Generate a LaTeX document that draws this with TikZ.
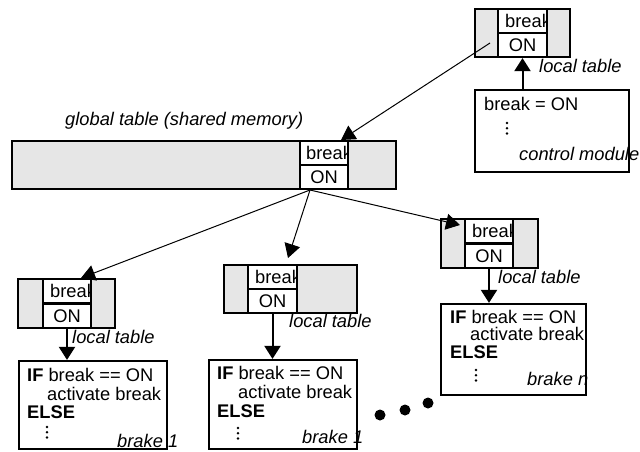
\documentclass[tikz,border=0pt]{standalone}
\usepackage{fontspec}
\setmainfont{Liberation Sans}
\usetikzlibrary{arrows.meta,fit}
\definecolor{shade}{RGB}{230,230,230}

% A table of shared variables: grey frame with a white key/value column.
% #1 name, #2/#3 left/right, #4/#5 column left/right, #6/#7 top/bottom, #8 x of the key text
\newcommand{\memtable}[8]{%
  \pgfmathsetmacro{\mtmid}{(#6+#7)/2}%
  \pgfmathsetmacro{\mtkeybase}{\mtmid-6}%
  \pgfmathsetmacro{\mtvalbase}{#7-5.5}%
  \pgfmathsetmacro{\mtcolmid}{(#4+#5)/2}%
  \pgfmathsetmacro{\mtclip}{#5-1.1}%
  \node[outerbox, fit={(#2,#6) (#3,#7)}] (#1) {};
  \node[cellbox, fit={(#4,#6) (#5,\mtmid)}] (#1-key) {};
  \node[cellbox, fit={(#4,\mtmid) (#5,#7)}] (#1-val) {};
  \begin{scope}
    \clip (#4,#6) rectangle (\mtclip,\mtmid);
    \node[txt] (#1-keytxt) at (#8,\mtkeybase) {break};
  \end{scope}
  \node[txt, anchor=base] (#1-valtxt) at (\mtcolmid,\mtvalbase) {ON};
}
% Vertical ellipsis drawn as three small dots
\newcommand{\vdotsat}[2]{%
  \foreach \k in {0,1,2} {\fill (#1,#2+5.2*\k) circle (1.4);}
}

\begin{document}
\begin{tikzpicture}[x=1pt,y=-1pt,
  outerbox/.style={draw, line width=2.2pt, inner sep=0pt, fill=shade},
  cellbox/.style={draw, line width=2.2pt, inner sep=0pt, fill=white},
  codebox/.style={draw, line width=2.2pt, inner sep=0pt, fill=white},
  txt/.style={inner sep=0pt, anchor=base west, font=\fontsize{18.3}{20}\selectfont},
  lbl/.style={inner sep=0pt, anchor=base west, font=\fontsize{18.3}{20}\selectfont\itshape},
  link/.style={line width=1pt, -{Triangle[length=14pt,width=16pt]}},
  feed/.style={line width=2pt, -{Triangle[length=13pt,width=16pt]}},
]
\useasboundingbox (0,0) rectangle (640,451);

% control module with its local table
\memtable{top}{475}{570}{498}{547}{9}{57}{505}
\node[lbl] (toplbl) at (539,72) {local table};
\node[codebox, fit={(475,90) (629,172)}] (ctl) {};
\node[txt] (ctl1) at (484,110) {break = ON};
\vdotsat{507}{123}
\node[lbl] (ctl2) at (519,160) {control module};
\draw[feed] (top-val.south |- ctl.north) -- (top-val.south);

% global table
\node[lbl] (glbl) at (65,125) {global table (shared memory)};
\memtable{glob}{12}{396}{300}{348}{141}{189}{306}

% local tables of the brakes
\memtable{lt}{18}{115}{43}{91}{279}{328}{50}
\node[lbl] (ltlbl) at (72,343) {local table};
\memtable{mt}{224}{357}{248}{297}{265}{313}{255}
\node[lbl] (mtlbl) at (289,327) {local table};
\memtable{rt}{441}{538}{465}{513}{219}{268}{472}
\node[lbl] (rtlbl) at (498,283) {local table};

% brake 1 (left)
\node[codebox, fit={(19,361) (167,449)}] (lb) {};
\node[txt] (lb1) at (27,381) {\textbf{IF} break == ON};
\node[txt] (lb2) at (47,400) {activate break};
\node[txt] (lb3) at (27,418) {\textbf{ELSE}};
\vdotsat{47}{427}
\node[lbl] (lb4) at (117,447) {brake 1};
\draw[feed] (lt-val.south) -- (lt-val.south |- lb.north);

% brake 1 (middle)
\node[codebox, fit={(209,360) (357,449)}] (mb) {};
\node[txt] (mb1) at (217,379) {\textbf{IF} break == ON};
\node[txt] (mb2) at (238,398) {activate break};
\node[txt] (mb3) at (217,417) {\textbf{ELSE}};
\vdotsat{238}{428}
\node[lbl] (mb4) at (302,443) {brake 1};
\draw[feed] (mt-val.south) -- (mt-val.south |- mb.north);

% brake n (right)
\node[codebox, fit={(441,304) (586,395)}] (rb) {};
\node[txt] (rb1) at (450,323) {\textbf{IF} break == ON};
\node[txt] (rb2) at (470,340) {activate break};
\node[txt] (rb3) at (450,358) {\textbf{ELSE}};
\vdotsat{476}{370}
\node[lbl] (rb4) at (527,385) {brake n};
\draw[feed] (rt-val.south) -- (rt-val.south |- rb.north);

% further brakes
\fill (380,415) circle (5.5);
\fill (405,410) circle (5.5);
\fill (428,403) circle (5.5);

% data flow between the tables
\coordinate (topsrc) at (490,43);
\coordinate (gtip) at (341,140);
\coordinate (gsrc) at (310,190);
\coordinate (ltip) at (81,278);
\coordinate (mtip) at (288,258);
\coordinate (rtip) at (460,225);
\draw[link] (topsrc) -- (gtip);
\draw[link] (gsrc) -- (ltip);
\draw[link] (gsrc) -- (mtip);
\draw[link] (gsrc) -- (rtip);
\end{tikzpicture}
\end{document}
